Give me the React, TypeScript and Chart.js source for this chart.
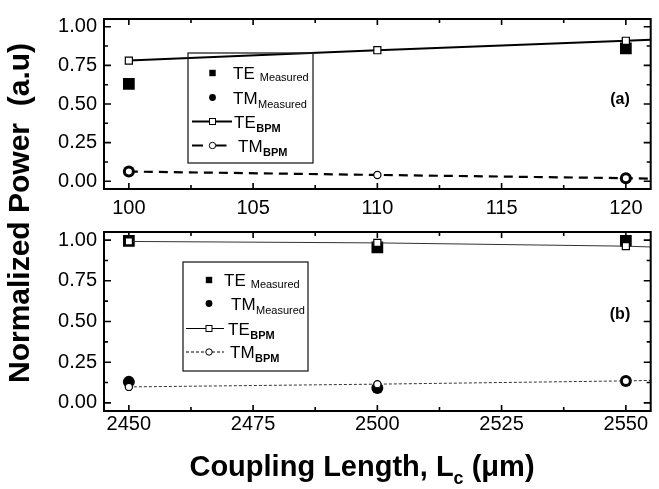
import { useEffect, useRef } from "react";
import { Chart, registerables } from "chart.js";

Chart.register(...registerables);

const W = 659;
const H = 489;
const FONT = "'Liberation Sans', Arial, Helvetica, sans-serif";

// ---------- Panel (a) data ----------
const lengthsA = [100, 110, 120];
const teMeasuredA = [0.63, null, 0.86];
const tmMeasuredA = [0.063, null, 0.02];
const teBpmA = [0.781, 0.848, 0.909];
const tmBpmA = [0.063, 0.041, 0.02];
const lineEndA = 121;
const teBpmEndA = 0.915;
const tmBpmEndA = 0.017;
const xTicksA = [100, 105, 110, 115, 120];
const xRangeA = [99, 121];

// ---------- Panel (b) data ----------
const lengthsB = [2450, 2500, 2550];
const teMeasuredB = [0.996, 0.955, 0.996];
const tmMeasuredB = [0.129, 0.092, 0.135];
const teBpmB = [0.992, 0.983, 0.963];
const tmBpmB = [0.098, 0.115, 0.135];
const lineEndB = 2555;
const teBpmEndB = 0.958;
const tmBpmEndB = 0.138;
const xTicksB = [2450, 2475, 2500, 2525, 2550];
const xRangeB = [2445, 2555];

// ---------- shared ----------
const yTicks = [0, 0.25, 0.5, 0.75, 1.0];
const yRange = [-0.05, 1.05];
const yTitle = "Normalized Power  (a.u)";
const xTitleMain = "Coupling Length, L";
const xTitleSub = "c";
const xTitleEnd = " (\u03bcm)";
const legendMain = ["TE", "TM", "TE", "TM"];
const legendSub = ["Measured", "Measured", "BPM", "BPM"];

type Pt = { x: number; y: number };
const pts = (xs: number[], ys: (number | null)[]): Pt[] =>
  xs.map((x, i) => ({ x, y: ys[i] as number })).filter((p) => p.y !== null && p.y !== undefined);

function minorTicks(t: number[], lo: number, hi: number) {
  const step = t[1] - t[0];
  const out: number[] = [];
  out.push(t[0] - step / 2);
  for (let i = 0; i < t.length - 1; i++) out.push((t[i] + t[i + 1]) / 2);
  out.push(t[t.length - 1] + step / 2);
  return out.filter((v) => v > lo && v < hi);
}

type LegendCfg = {
  box: [number, number, number, number];
  symX: number;
  line0: number;
  line1: number;
  rows: number[];
  textX: number[];
  tmDash: number[];
  lineW: number;
  panel: string;
  panelPos: [number, number];
};

function drawLegend(ctx: CanvasRenderingContext2D, L: LegendCfg) {
  const [x0, y0, x1, y1] = L.box;
  ctx.save();
  ctx.strokeStyle = "#222";
  ctx.lineWidth = 1.3;
  ctx.strokeRect(x0, y0, x1 - x0, y1 - y0);
  const sx = L.symX;
  ctx.fillStyle = "#000";
  ctx.fillRect(sx - 3.2, L.rows[0] - 3.2, 6.4, 6.4);
  ctx.beginPath();
  ctx.arc(sx, L.rows[1], 3.4, 0, Math.PI * 2);
  ctx.fill();
  ctx.strokeStyle = "#000";
  ctx.lineWidth = L.lineW;
  ctx.beginPath();
  ctx.moveTo(L.line0, L.rows[2]);
  ctx.lineTo(L.line1, L.rows[2]);
  ctx.stroke();
  ctx.fillStyle = "#fff";
  ctx.lineWidth = 1;
  ctx.fillRect(sx - 3, L.rows[2] - 3, 6, 6);
  ctx.strokeRect(sx - 3, L.rows[2] - 3, 6, 6);
  ctx.lineWidth = L.lineW;
  ctx.setLineDash(L.tmDash);
  ctx.beginPath();
  ctx.moveTo(L.line0, L.rows[3]);
  ctx.lineTo(sx - 3, L.rows[3]);
  ctx.moveTo(sx + 3, L.rows[3]);
  ctx.lineTo(L.line1, L.rows[3]);
  ctx.stroke();
  ctx.setLineDash([]);
  ctx.lineWidth = 1;
  ctx.beginPath();
  ctx.arc(sx, L.rows[3], 3.2, 0, Math.PI * 2);
  ctx.fillStyle = "#fff";
  ctx.fill();
  ctx.stroke();
  ctx.fillStyle = "#000";
  ctx.textBaseline = "alphabetic";
  ctx.textAlign = "left";
  for (let i = 0; i < 4; i++) {
    const base = L.rows[i] + 6;
    ctx.font = `17px ${FONT}`;
    ctx.fillText(legendMain[i], L.textX[i], base);
    const w = ctx.measureText(legendMain[i]).width;
    ctx.font = `${i >= 2 ? "bold " : ""}11px ${FONT}`;
    const gap = i === 0 ? 5 : 0.5;
    const dy = i === 0 ? 2 : 4;
    ctx.fillText(legendSub[i], L.textX[i] + w + gap, base + dy);
  }
  ctx.font = `bold 16px ${FONT}`;
  ctx.textAlign = "center";
  ctx.textBaseline = "middle";
  ctx.fillText(L.panel, L.panelPos[0], L.panelPos[1]);
  ctx.restore();
}

function makePlugin(legend: LegendCfg, xTicks: number[], withTitles: boolean) {
  return {
    id: "frameAndLegend",
    afterDraw(chart: any) {
      const ctx: CanvasRenderingContext2D = chart.ctx;
      const { left, right, top, bottom } = chart.chartArea;
      const xs = chart.scales.x;
      const ys = chart.scales.y;
      ctx.save();
      ctx.strokeStyle = "#000";
      ctx.lineWidth = 1.6;
      const xMin = minorTicks(xTicks, xs.min, xs.max);
      const yMin = minorTicks(yTicks, ys.min, ys.max);
      ctx.beginPath();
      for (const v of xTicks) {
        const p = xs.getPixelForValue(v);
        ctx.moveTo(p, bottom); ctx.lineTo(p, bottom - 6);
        ctx.moveTo(p, top); ctx.lineTo(p, top + 6);
      }
      for (const v of xMin) {
        const p = xs.getPixelForValue(v);
        ctx.moveTo(p, bottom); ctx.lineTo(p, bottom - 4);
        ctx.moveTo(p, top); ctx.lineTo(p, top + 4);
      }
      for (const v of yTicks) {
        const p = ys.getPixelForValue(v);
        ctx.moveTo(left, p); ctx.lineTo(left + 7, p);
        ctx.moveTo(right, p); ctx.lineTo(right - 7, p);
      }
      for (const v of yMin) {
        const p = ys.getPixelForValue(v);
        ctx.moveTo(left, p); ctx.lineTo(left + 4, p);
        ctx.moveTo(right, p); ctx.lineTo(right - 4, p);
      }
      ctx.stroke();
      ctx.lineWidth = 2;
      ctx.strokeRect(left, top, right - left, bottom - top);
      ctx.restore();

      drawLegend(ctx, legend);

      if (withTitles) {
        ctx.save();
        ctx.fillStyle = "#000";
        const big = `bold 29px ${FONT}`;
        const small = `bold 18px ${FONT}`;
        ctx.textBaseline = "alphabetic";
        ctx.textAlign = "left";
        ctx.font = big;
        const w1 = ctx.measureText(xTitleMain).width;
        const w3 = ctx.measureText(xTitleEnd).width;
        ctx.font = small;
        const w2 = ctx.measureText(xTitleSub).width;
        const total = w1 + w2 + w3;
        const cx = 362;
        let x = cx - total / 2;
        const base = 476;
        ctx.font = big;
        ctx.fillText(xTitleMain, x, base);
        x += w1;
        ctx.font = small;
        ctx.fillText(xTitleSub, x, base + 8);
        x += w2;
        ctx.font = big;
        ctx.fillText(xTitleEnd, x, base);
        ctx.translate(29, 213);
        ctx.rotate(-Math.PI / 2);
        ctx.textAlign = "center";
        ctx.font = `bold 30px ${FONT}`;
        ctx.fillText(yTitle, 0, 0);
        ctx.restore();
      }
    },
  };
}

function buildConfig(opts: {
  xs: number[];
  teM: (number | null)[];
  tmM: (number | null)[];
  teB: number[];
  tmB: number[];
  end: number;
  teEnd: number;
  tmEnd: number;
  xTicks: number[];
  xRange: number[];
  top: number;
  bottom: number;
  xPad: number;
  thin: boolean;
  legend: LegendCfg;
  withTitles: boolean;
}) {
  const teLine = [...pts(opts.xs, opts.teB), { x: opts.end, y: opts.teEnd }];
  const tmLine = [...pts(opts.xs, opts.tmB), { x: opts.end, y: opts.tmEnd }];
  const radii = (n: number, r: number) => Array.from({ length: n }, (_, i) => (i === n - 1 ? 0 : r));
  const lineColor = opts.thin ? "#333" : "#000";
  return {
    type: "scatter" as const,
    data: {
      datasets: [
        {
          label: "TE BPM",
          data: teLine,
          showLine: true,
          borderColor: lineColor,
          borderWidth: opts.thin ? 1 : 2,
          pointStyle: "rect",
          pointRadius: radii(teLine.length, 5),
          pointBackgroundColor: "#fff",
          pointBorderColor: "#000",
          pointBorderWidth: 1.2,
          order: 0,
        },
        {
          label: "TM BPM",
          data: tmLine,
          showLine: true,
          borderColor: lineColor,
          borderWidth: opts.thin ? 1 : 2.2,
          borderDash: opts.thin ? [3, 2] : [9, 6],
          pointStyle: "circle",
          pointRadius: radii(tmLine.length, 3.6),
          pointBackgroundColor: "#fff",
          pointBorderColor: "#000",
          pointBorderWidth: 1.2,
          order: 0,
        },
        {
          label: "TE Measured",
          data: pts(opts.xs, opts.teM),
          pointStyle: "rect",
          pointRadius: 8.3,
          pointBackgroundColor: "#000",
          pointBorderColor: "#000",
          pointBorderWidth: 0,
          order: 1,
        },
        {
          label: "TM Measured",
          data: pts(opts.xs, opts.tmM),
          pointStyle: "circle",
          pointRadius: 6,
          pointBackgroundColor: "#000",
          pointBorderColor: "#000",
          pointBorderWidth: 0,
          order: 1,
        },
      ],
    },
    options: {
      responsive: false,
      animation: false,
      devicePixelRatio: 1,
      layout: { padding: { left: 0, right: 2, top: opts.top, bottom: 0 } },
      plugins: { legend: { display: false }, tooltip: { enabled: false }, title: { display: false } },
      scales: {
        x: {
          type: "linear",
          min: opts.xRange[0],
          max: opts.xRange[1],
          grid: { display: false, drawTicks: false },
          border: { display: false },
          afterBuildTicks: (s: any) => {
            s.ticks = opts.xTicks.map((v) => ({ value: v }));
          },
          afterFit: (s: any) => {
            s.height = H - opts.bottom;
          },
          ticks: {
            autoSkip: false,
            maxRotation: 0,
            padding: opts.xPad,
            color: "#000",
            font: { family: FONT, size: 20 },
            callback: (v: any) => String(v),
          },
        },
        y: {
          type: "linear",
          min: yRange[0],
          max: yRange[1],
          grid: { display: false, drawTicks: false },
          border: { display: false },
          afterBuildTicks: (s: any) => {
            s.ticks = yTicks.map((v) => ({ value: v }));
          },
          afterFit: (s: any) => {
            s.width = 104;
          },
          ticks: {
            autoSkip: false,
            padding: 7,
            color: "#000",
            font: { family: FONT, size: 20 },
            callback: (v: any) => Number(v).toFixed(2),
          },
        },
      },
    },
    plugins: [makePlugin(opts.legend, opts.xTicks, opts.withTitles)],
  };
}

const legendA: LegendCfg = {
  box: [188, 53, 313, 163],
  symX: 212.5,
  line0: 192,
  line1: 232,
  rows: [73, 97.5, 121.5, 145.5],
  textX: [233, 233, 234, 238],
  tmDash: [11, 100],
  lineW: 2,
  panel: "(a)",
  panelPos: [620, 99.5],
};

const legendB: LegendCfg = {
  box: [183, 262, 308, 371],
  symX: 209,
  line0: 186,
  line1: 224,
  rows: [280, 303.5, 328.5, 352],
  textX: [224, 231, 228, 230],
  tmDash: [3, 2],
  lineW: 1,
  panel: "(b)",
  panelPos: [620, 315],
};

export default function App() {
  const refA = useRef<HTMLCanvasElement>(null);
  const refB = useRef<HTMLCanvasElement>(null);

  useEffect(() => {
    const a = new Chart(
      refA.current as HTMLCanvasElement,
      buildConfig({
        xs: lengthsA,
        teM: teMeasuredA,
        tmM: tmMeasuredA,
        teB: teBpmA,
        tmB: tmBpmA,
        end: lineEndA,
        teEnd: teBpmEndA,
        tmEnd: tmBpmEndA,
        xTicks: xTicksA,
        xRange: xRangeA,
        top: 9,
        bottom: 189,
        xPad: 7,
        thin: false,
        legend: legendA,
        withTitles: false,
      }) as any
    );
    const b = new Chart(
      refB.current as HTMLCanvasElement,
      buildConfig({
        xs: lengthsB,
        teM: teMeasuredB,
        tmM: tmMeasuredB,
        teB: teBpmB,
        tmB: tmBpmB,
        end: lineEndB,
        teEnd: teBpmEndB,
        tmEnd: tmBpmEndB,
        xTicks: xTicksB,
        xRange: xRangeB,
        top: 232,
        bottom: 411,
        xPad: 1,
        thin: true,
        legend: legendB,
        withTitles: true,
      }) as any
    );
    return () => {
      a.destroy();
      b.destroy();
    };
  }, []);

  const style: any = { position: "absolute", left: 0, top: 0, width: W, height: H };
  return (
    <div style={{ position: "absolute", left: 0, top: 0, width: W, height: H, background: "#fff" }}>
      <canvas ref={refA} width={W} height={H} style={style} />
      <canvas ref={refB} width={W} height={H} style={style} />
    </div>
  );
}
